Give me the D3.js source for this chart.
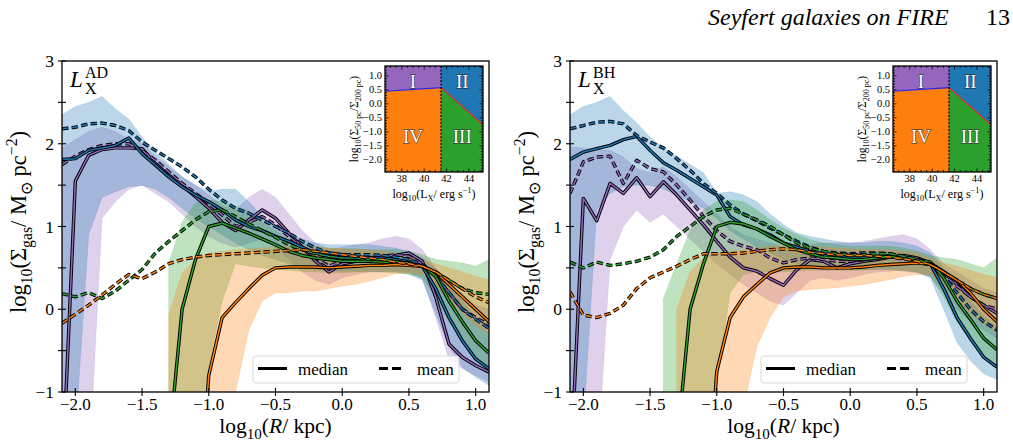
<!DOCTYPE html>
<html>
<head>
<meta charset="utf-8">
<script src="https://cdn.jsdelivr.net/npm/d3@7"></script>
<style>
  body { margin: 0; background: #fff; }
</style>
</head>
<body>
<div id="graph"></div>
<script>
// radial bins, log10(R/kpc)
const logR = [-2.1, -2.0, -1.9, -1.8, -1.7, -1.6, -1.5, -1.4, -1.3, -1.2, -1.1, -1.0, -0.9, -0.8, -0.7, -0.6, -0.5,
              -0.4, -0.3, -0.2, -0.1, 0.0, 0.1, 0.2, 0.3, 0.4, 0.5, 0.6, 0.7, 0.8, 0.9, 1.0, 1.1];
const _ = null;

// ---- L_X^AD panel ----
const adMedianI  = [-2.1, 1.55, 1.86, 1.93, 1.95, 1.95, 1.94, 1.76, 1.62, 1.50, 1.36, 1.22, 1.05, 0.95, 1.08, 1.20, 1.10, 0.92, 0.75, 0.58, 0.45, 0.55, 0.58, 0.60, 0.62, 0.65, 0.68, 0.58, 0.15, -0.42, -0.58, -0.68, -0.76];
const adMeanI    = [1.75, 1.85, 1.93, 1.98, 2.0, 2.0, 1.92, 1.8, 1.66, 1.52, 1.4, 1.28, 1.14, 1.0, 1.05, 1.12, 1.02, 0.88, 0.75, 0.62, 0.52, 0.58, 0.6, 0.62, 0.64, 0.66, 0.64, 0.55, 0.4, 0.2, 0.0, -0.1, -0.19];
const adLoI      = [-3, -3, -2, 1.1, 1.3, 1.45, 1.5, 1.4, 1.3, 1.15, 1.0, 0.88, 0.8, 0.75, 0.8, 0.85, 0.75, 0.6, 0.45, 0.35, 0.3, 0.38, 0.42, 0.45, 0.46, 0.46, 0.45, 0.38, -0.1, -0.6, -0.72, -0.8, -0.88];
const adHiI      = [1.95, 2.05, 2.15, 2.2, 2.15, 2.05, 2.0, 1.85, 1.72, 1.6, 1.5, 1.38, 1.25, 1.2, 1.35, 1.45, 1.35, 1.15, 0.95, 0.8, 0.72, 0.75, 0.78, 0.8, 0.85, 0.88, 0.85, 0.72, 0.5, 0.3, 0.15, 0.05, 0.0];

const adMedianII = [1.81, 1.82, 1.92, 1.95, 1.98, 2.07, 1.88, 1.74, 1.6, 1.48, 1.38, 1.3, 1.2, 1.08, 1.0, 0.95, 0.88, 0.82, 0.75, 0.68, 0.64, 0.62, 0.62, 0.62, 0.62, 0.6, 0.58, 0.52, 0.25, -0.1, -0.38, -0.6, -0.72];
const adMeanII   = [2.18, 2.2, 2.24, 2.25, 2.22, 2.16, 2.02, 1.92, 1.82, 1.72, 1.6, 1.45, 1.32, 1.22, 1.16, 1.08, 1.0, 0.92, 0.82, 0.74, 0.68, 0.66, 0.66, 0.66, 0.65, 0.63, 0.6, 0.54, 0.4, 0.2, 0.0, -0.12, -0.23];
const adLoII     = [-2.5, -1.5, 0.9, 1.35, 1.42, 1.48, 1.5, 1.45, 1.35, 1.22, 1.1, 1.0, 0.9, 0.8, 0.72, 0.65, 0.6, 0.55, 0.5, 0.48, 0.46, 0.46, 0.46, 0.46, 0.45, 0.45, 0.43, 0.35, -0.05, -0.45, -0.7, -0.82, -0.92];
const adHiII     = [2.35, 2.45, 2.5, 2.57, 2.42, 2.3, 2.08, 1.9, 1.75, 1.6, 1.5, 1.42, 1.45, 1.45, 1.3, 1.12, 1.0, 0.9, 0.85, 0.8, 0.78, 0.78, 0.78, 0.78, 0.76, 0.74, 0.7, 0.62, 0.5, 0.3, 0.1, -0.1, -0.3];

const adMedianIII = [_, _, _, _, _, _, _, _, -1.67, 0.0, 0.6, 1.0, 1.04, 0.98, 0.92, 0.85, 0.78, 0.70, 0.65, 0.62, 0.60, 0.58, 0.58, 0.58, 0.57, 0.56, 0.55, 0.52, 0.4, 0.1, -0.15, -0.38, -0.53];
const adMeanIII   = [0.19, 0.15, 0.2, 0.13, 0.22, 0.35, 0.48, 0.68, 0.82, 0.95, 1.08, 1.18, 1.2, 1.12, 1.03, 0.95, 0.87, 0.78, 0.72, 0.67, 0.64, 0.62, 0.62, 0.6, 0.6, 0.58, 0.56, 0.52, 0.45, 0.35, 0.25, 0.2, 0.18];
const adLoIII     = [_, _, _, _, _, _, _, _, -3, -3, -3, -0.7, 0.1, 0.55, 0.52, 0.5, 0.48, 0.47, 0.46, 0.45, 0.44, 0.44, 0.45, 0.45, 0.45, 0.44, 0.42, 0.38, 0.15, -0.15, -0.4, -0.6, -0.7];
const adHiIII     = [_, _, _, _, _, _, _, _, 0.56, 1.05, 1.28, 1.32, 1.3, 1.25, 1.18, 1.05, 0.95, 0.85, 0.8, 0.76, 0.74, 0.73, 0.73, 0.72, 0.72, 0.72, 0.7, 0.66, 0.6, 0.58, 0.56, 0.52, 0.6];

const adMedianIV = [_, _, _, _, _, _, _, _, _, _, -3.0, -0.8, -0.1, 0.08, 0.25, 0.41, 0.5, 0.51, 0.51, 0.51, 0.5, 0.51, 0.52, 0.53, 0.53, 0.54, 0.53, 0.52, 0.45, 0.3, 0.15, 0.0, -0.15];
const adMeanIV   = [-0.17, -0.06, 0.05, 0.17, 0.3, 0.42, 0.37, 0.45, 0.55, 0.6, 0.63, 0.65, 0.66, 0.67, 0.68, 0.69, 0.70, 0.71, 0.72, 0.7, 0.68, 0.66, 0.64, 0.62, 0.6, 0.57, 0.55, 0.52, 0.45, 0.35, 0.25, 0.15, 0.08];
const adLoIV     = [_, _, _, _, _, _, _, _, -3, -3, -3, -3, -2.0, -1.0, -0.25, 0.1, 0.2, 0.2, 0.22, 0.22, 0.25, 0.28, 0.3, 0.34, 0.38, 0.43, 0.44, 0.42, 0.3, 0.1, -0.05, -0.2, -0.3];
const adHiIV     = [_, _, _, _, _, _, _, _, -0.07, 0.44, 0.6, 0.68, 0.7, 0.72, 0.73, 0.74, 0.75, 0.76, 0.76, 0.75, 0.74, 0.73, 0.72, 0.72, 0.7, 0.68, 0.65, 0.6, 0.55, 0.5, 0.45, 0.4, 0.35];

// ---- L_X^BH panel ----
const bhMedianI  = [-2.1, 1.34, 1.07, 1.52, 1.4, 1.59, 1.36, 1.54, 1.38, 1.2, 1.02, 0.82, 0.63, 0.5, 0.46, 0.37, 0.29, 0.48, 0.6, 0.58, 0.5, 0.55, 0.58, 0.6, 0.63, 0.65, 0.62, 0.56, 0.45, 0.3, 0.15, 0.05, -0.05];
const bhMeanI    = [1.4, 1.78, 1.84, 1.85, 1.52, 1.8, 1.7, 1.66, 1.5, 1.32, 1.12, 0.95, 0.82, 0.76, 0.72, 0.62, 0.56, 0.6, 0.62, 0.6, 0.58, 0.58, 0.6, 0.62, 0.63, 0.62, 0.6, 0.55, 0.42, 0.28, 0.15, 0.05, 0.0];
const bhLoI      = [-3, -3, -2, 0.6, 1.0, 1.2, 1.05, 1.15, 1.0, 0.85, 0.7, 0.55, 0.42, 0.3, 0.2, 0.1, 0.05, 0.2, 0.35, 0.38, 0.35, 0.38, 0.42, 0.45, 0.46, 0.47, 0.45, 0.4, 0.2, 0.0, -0.15, -0.25, -0.35];
const bhHiI      = [1.96, 1.95, 1.93, 1.92, 1.84, 1.7, 1.65, 1.72, 1.6, 1.45, 1.3, 1.15, 1.0, 0.9, 0.85, 0.8, 0.75, 0.75, 0.78, 0.8, 0.8, 0.8, 0.82, 0.85, 0.88, 0.9, 0.85, 0.72, 0.55, 0.45, 0.35, 0.25, 0.2];

const bhMedianII = [1.81, 1.9, 1.94, 1.98, 2.05, 2.09, 1.92, 1.77, 1.68, 1.58, 1.48, 1.38, 1.12, 1.02, 0.97, 0.9, 0.8, 0.75, 0.7, 0.65, 0.64, 0.62, 0.62, 0.63, 0.65, 0.62, 0.58, 0.55, 0.25, -0.1, -0.35, -0.58, -0.7];
const bhMeanII   = [2.18, 2.22, 2.26, 2.27, 2.24, 2.1, 2.02, 1.95, 1.82, 1.68, 1.52, 1.4, 1.26, 1.15, 1.07, 0.98, 0.9, 0.82, 0.75, 0.7, 0.68, 0.67, 0.68, 0.68, 0.67, 0.64, 0.6, 0.55, 0.4, 0.2, 0.0, -0.15, -0.25];
const bhLoII     = [-2.5, -1.4, 1.2, 1.4, 1.48, 1.5, 1.5, 1.45, 1.38, 1.3, 1.22, 1.1, 0.95, 0.85, 0.75, 0.68, 0.6, 0.55, 0.52, 0.5, 0.48, 0.48, 0.48, 0.48, 0.48, 0.46, 0.44, 0.38, 0.0, -0.4, -0.62, -0.78, -0.85];
const bhHiII     = [2.35, 2.45, 2.5, 2.57, 2.4, 2.25, 2.08, 1.95, 1.85, 1.75, 1.65, 1.4, 1.42, 1.38, 1.3, 1.15, 1.02, 0.92, 0.88, 0.85, 0.82, 0.8, 0.8, 0.82, 0.82, 0.8, 0.76, 0.68, 0.5, 0.3, 0.1, -0.08, -0.22];

const bhMedianIII = [_, _, _, _, _, _, _, _, -1.67, 0.0, 0.55, 1.0, 1.05, 1.03, 0.97, 0.88, 0.8, 0.72, 0.67, 0.63, 0.62, 0.6, 0.6, 0.62, 0.64, 0.62, 0.6, 0.57, 0.38, 0.1, -0.12, -0.35, -0.49];
const bhMeanIII   = [0.57, 0.5, 0.57, 0.53, 0.55, 0.58, 0.63, 0.72, 0.88, 1.0, 1.12, 1.2, 1.22, 1.15, 1.08, 1.0, 0.9, 0.8, 0.74, 0.7, 0.67, 0.66, 0.66, 0.67, 0.67, 0.64, 0.6, 0.55, 0.45, 0.35, 0.25, 0.18, 0.13];
const bhLoIII     = [_, _, _, _, _, _, _, -3, -3, -3, -3, -0.9, 0.2, 0.42, 0.45, 0.45, 0.45, 0.46, 0.47, 0.47, 0.47, 0.47, 0.47, 0.48, 0.48, 0.47, 0.45, 0.4, 0.15, -0.15, -0.38, -0.58, -0.68];
const bhHiIII     = [_, _, _, _, _, _, _, 0.13, 0.55, 0.95, 1.2, 1.3, 1.32, 1.3, 1.2, 1.08, 0.98, 0.9, 0.84, 0.8, 0.78, 0.76, 0.76, 0.76, 0.76, 0.74, 0.7, 0.65, 0.62, 0.6, 0.55, 0.5, 0.62];

const bhMedianIV = [_, _, _, _, _, _, _, _, _, _, -3.0, -0.75, -0.1, 0.15, 0.3, 0.44, 0.5, 0.51, 0.51, 0.5, 0.5, 0.5, 0.51, 0.53, 0.54, 0.55, 0.56, 0.54, 0.45, 0.35, 0.2, 0.0, -0.15];
const bhMeanIV   = [0.21, -0.07, -0.1, -0.05, 0.05, 0.25, 0.38, 0.45, 0.52, 0.6, 0.67, 0.67, 0.67, 0.68, 0.7, 0.72, 0.73, 0.72, 0.69, 0.67, 0.66, 0.65, 0.65, 0.64, 0.63, 0.61, 0.58, 0.54, 0.45, 0.35, 0.25, 0.18, 0.13];
const bhLoIV     = [_, _, _, _, _, _, _, _, -3, -3, -3, -3, -2.2, -1.2, -0.45, -0.1, 0.15, 0.22, 0.24, 0.25, 0.26, 0.28, 0.3, 0.33, 0.36, 0.4, 0.42, 0.42, 0.3, 0.1, -0.05, -0.18, -0.28];
const bhHiIV     = [_, _, _, _, _, _, _, _, 0.0, 0.45, 0.62, 0.68, 0.7, 0.72, 0.74, 0.76, 0.77, 0.77, 0.76, 0.75, 0.74, 0.73, 0.72, 0.72, 0.72, 0.7, 0.68, 0.62, 0.56, 0.52, 0.47, 0.42, 0.38];

// axis ticks
const xTicks = [-2.0, -1.5, -1.0, -0.5, 0.0, 0.5, 1.0];
const yTicks = [-1, -0.5, 0, 0.5, 1, 1.5, 2, 2.5, 3];
const yTickLabels = [-1, 0, 1, 2, 3];

// inset: classification in the (L_X, Sigma_50pc/Sigma_200pc) plane
const insetLxRange = [36.5, 45.25];
const insetRatioRange = [-2.43, 1.35];
const lxCut = 41.5;
const faintBoundary = [[36.5, 0.45], [41.5, 0.58]];
const brightBoundary = [[41.5, 0.58], [45.25, -0.75]];
const insetXTicks = [38, 40, 42, 44];
const insetYTicks = [-2.0, -1.5, -1.0, -0.5, 0.0, 0.5, 1.0];
const classLabels = ["I", "II", "III", "IV"];
const classLabelPos = [[39.0, 0.81], [43.4, 0.81], [43.4, -1.18], [39.0, -1.18]];

const colors = { I: "#9467bd", II: "#1f77b4", III: "#2ca02c", IV: "#ff7f0e" };

const panels = [
  { tag: "AD", left: 62,
    median: { I: adMedianI, II: adMedianII, III: adMedianIII, IV: adMedianIV },
    mean:   { I: adMeanI,   II: adMeanII,   III: adMeanIII,   IV: adMeanIV },
    lo:     { I: adLoI,     II: adLoII,     III: adLoIII,     IV: adLoIV },
    hi:     { I: adHiI,     II: adHiII,     III: adHiIII,     IV: adHiIV } },
  { tag: "BH", left: 570,
    median: { I: bhMedianI, II: bhMedianII, III: bhMedianIII, IV: bhMedianIV },
    mean:   { I: bhMeanI,   II: bhMeanII,   III: bhMeanIII,   IV: bhMeanIV },
    lo:     { I: bhLoI,     II: bhLoII,     III: bhLoIII,     IV: bhLoIV },
    hi:     { I: bhHiI,     II: bhHiII,     III: bhHiIII,     IV: bhHiIV } }
];

const width = 1013, height = 444;
const plotW = 427, plotTop = 61, plotBottom = 392;

const svg = d3.select("#graph").append("svg")
  .attr("width", width).attr("height", height)
  .attr("viewBox", `0 0 ${width} ${height}`)
  .attr("font-family", "'Liberation Serif', serif");

// text with sub/superscripts
function rich(sel, parts, size) {
  sel.attr("font-size", size);
  let shift = 0;
  parts.forEach(([t, m]) => {
    const sp = sel.append("tspan").text(t);
    const target = m === "sub" ? size * 0.28 : m === "sup" ? -size * 0.42 : 0;
    sp.attr("dy", target - shift);
    shift = target;
    if (m === "sub" || m === "sup") sp.attr("font-size", size * 0.7);
    if (m === "it") sp.attr("font-style", "italic");
  });
}

const fmt = v => (v < 0 ? "\u2212" : "") + Math.abs(v).toFixed(1);
const fmtInt = v => (v < 0 ? "\u2212" : "") + Math.abs(v);

// header
svg.append("text").attr("x", 708).attr("y", 25).attr("font-size", 24)
  .attr("font-style", "italic").text("Seyfert galaxies on FIRE");
svg.append("text").attr("x", 1010).attr("y", 25).attr("font-size", 24)
  .attr("text-anchor", "end").text("13");

panels.forEach((p, pi) => {
  const x = d3.scaleLinear().domain([-2.1, 1.1]).range([p.left, p.left + plotW]);
  const y = d3.scaleLinear().domain([-1, 3]).range([plotBottom, plotTop]);
  const g = svg.append("g");

  const clipId = `clip${pi}`;
  svg.append("clipPath").attr("id", clipId).append("rect")
    .attr("x", p.left).attr("y", plotTop).attr("width", plotW).attr("height", plotBottom - plotTop);

  const plot = g.append("g").attr("clip-path", `url(#${clipId})`);

  // shaded percentile bands
  classLabels.forEach(k => {
    const lo = p.lo[k], hi = p.hi[k];
    const area = d3.area()
      .defined(i => lo[i] != null && hi[i] != null)
      .x(i => x(logR[i])).y0(i => y(lo[i])).y1(i => y(hi[i]));
    plot.append("path").attr("d", area(d3.range(logR.length)))
      .attr("fill", colors[k]).attr("fill-opacity", 0.3)
      .attr("stroke", colors[k]).attr("stroke-opacity", 0.25).attr("stroke-width", 0.6);
  });

  // median (solid) and mean (dashed), outlined in black
  classLabels.forEach(k => {
    [["median", null], ["mean", "6.5,3.2"]].forEach(([stat, dash]) => {
      const vals = p[stat][k];
      const line = d3.line().defined(i => vals[i] != null)
        .x(i => x(logR[i])).y(i => y(vals[i]));
      const d = line(d3.range(logR.length));
      plot.append("path").attr("d", d).attr("fill", "none")
        .attr("stroke", "#000").attr("stroke-width", 3.4)
        .attr("stroke-linejoin", "round").attr("stroke-dasharray", dash);
      plot.append("path").attr("d", d).attr("fill", "none")
        .attr("stroke", colors[k]).attr("stroke-width", 1.5)
        .attr("stroke-linejoin", "round").attr("stroke-dasharray", dash);
    });
  });

  // frame
  g.append("rect").attr("x", p.left).attr("y", plotTop).attr("width", plotW).attr("height", plotBottom - plotTop)
    .attr("fill", "none").attr("stroke", "#000").attr("stroke-width", 1.3);

  // ticks
  xTicks.forEach(t => {
    g.append("line").attr("x1", x(t)).attr("x2", x(t)).attr("y1", plotBottom - 4).attr("y2", plotBottom + 4)
      .attr("stroke", "#000").attr("stroke-width", 1.1);
    g.append("text").attr("x", x(t)).attr("y", plotBottom + 18).attr("text-anchor", "middle")
      .attr("font-size", 17).text(fmt(t));
  });
  yTicks.forEach(t => {
    g.append("line").attr("x1", p.left - 4).attr("x2", p.left + 4).attr("y1", y(t)).attr("y2", y(t))
      .attr("stroke", "#000").attr("stroke-width", 1.1);
  });
  yTickLabels.forEach(t => {
    g.append("text").attr("x", p.left - 8).attr("y", y(t) + 6).attr("text-anchor", "end")
      .attr("font-size", 17.5).text(fmtInt(t));
  });

  // axis labels
  rich(g.append("text").attr("x", p.left + plotW / 2).attr("y", 433).attr("text-anchor", "middle"),
    [["log", ""], ["10", "sub"], ["(", ""], ["R", "it"], ["/ kpc)", ""]], 21.5);
  rich(g.append("text").attr("transform", `translate(${p.left - 36},222) rotate(-90)`).attr("text-anchor", "middle"),
    [["log", ""], ["10", "sub"], ["(\u03A3", ""], ["gas", "sub"], ["/ M", ""], ["\u2299", "sub"], [" pc", ""], ["\u22122", "sup"], [")", ""]], 22.5);

  // panel tag L_X^AD / L_X^BH
  g.append("text").attr("x", p.left + 8).attr("y", 87).attr("font-size", 23)
    .attr("font-style", "italic").text("L");
  g.append("text").attr("x", p.left + 23).attr("y", 78).attr("font-size", 16).text(p.tag);
  g.append("text").attr("x", p.left + 23).attr("y", 94).attr("font-size", 16).text("X");

  // legend
  const lg = g.append("g");
  lg.append("rect").attr("x", p.left + 191).attr("y", 356).attr("width", 206).attr("height", 27)
    .attr("rx", 3).attr("fill", "#fff").attr("fill-opacity", 0.8)
    .attr("stroke", "#d6d6d6").attr("stroke-width", 1);
  lg.append("line").attr("x1", p.left + 196).attr("x2", p.left + 225).attr("y1", 368.5).attr("y2", 368.5)
    .attr("stroke", "#000").attr("stroke-width", 3);
  lg.append("text").attr("x", p.left + 236).attr("y", 374.5).attr("font-size", 17).text("median");
  lg.append("line").attr("x1", p.left + 317).attr("x2", p.left + 343).attr("y1", 368.5).attr("y2", 368.5)
    .attr("stroke", "#000").attr("stroke-width", 3).attr("stroke-dasharray", "9,4");
  lg.append("text").attr("x", p.left + 355).attr("y", 374.5).attr("font-size", 17).text("mean");

  // inset
  const i0 = p.left + 323, iW = 98, iTop = 66, iBot = 172;
  const ix = d3.scaleLinear().domain(insetLxRange).range([i0, i0 + iW]);
  const iy = d3.scaleLinear().domain(insetRatioRange).range([iBot, iTop]);
  const [xl, xr] = insetLxRange, [yb, yt] = insetRatioRange;
  const polys = {
    I:   [[xl, yt], [lxCut, yt], faintBoundary[1], faintBoundary[0]],
    IV:  [faintBoundary[0], faintBoundary[1], [lxCut, yb], [xl, yb]],
    II:  [[lxCut, yt], [xr, yt], brightBoundary[1], brightBoundary[0]],
    III: [brightBoundary[0], brightBoundary[1], [xr, yb], [lxCut, yb]]
  };
  const ig = g.append("g");
  Object.entries(polys).forEach(([k, pts]) => {
    ig.append("path").attr("d", d3.line()(pts.map(q => [ix(q[0]), iy(q[1])])) + "Z")
      .attr("fill", colors[k]);
  });
  ig.append("path").attr("d", d3.line()(faintBoundary.map(q => [ix(q[0]), iy(q[1])])))
    .attr("stroke", "#1f1fff").attr("stroke-width", 1.2).attr("fill", "none");
  ig.append("path").attr("d", d3.line()(brightBoundary.map(q => [ix(q[0]), iy(q[1])])))
    .attr("stroke", "#ff1a1a").attr("stroke-width", 1.2).attr("fill", "none");
  ig.append("line").attr("x1", ix(lxCut)).attr("x2", ix(lxCut)).attr("y1", iTop).attr("y2", iBot)
    .attr("stroke", "#000").attr("stroke-width", 1.2).attr("stroke-dasharray", "2,1.5");
  classLabels.forEach((k, j) => {
    ig.append("text").attr("x", ix(classLabelPos[j][0])).attr("y", iy(classLabelPos[j][1]) + 6.5)
      .attr("text-anchor", "middle").attr("font-size", 19)
      .attr("fill", "#fff").attr("stroke", "#222").attr("stroke-width", 0.9)
      .attr("paint-order", "stroke").text(k);
  });
  ig.append("rect").attr("x", i0).attr("y", iTop).attr("width", iW).attr("height", iBot - iTop)
    .attr("fill", "none").attr("stroke", "#000").attr("stroke-width", 1.3);
  // inset ticks, inward on all sides
  d3.range(37, 45.01, 0.5).forEach(t => {
    const major = insetXTicks.includes(t);
    const L = major ? 3.5 : 2;
    ig.append("line").attr("x1", ix(t)).attr("x2", ix(t)).attr("y1", iBot).attr("y2", iBot - L).attr("stroke", "#000").attr("stroke-width", 0.8);
    ig.append("line").attr("x1", ix(t)).attr("x2", ix(t)).attr("y1", iTop).attr("y2", iTop + L).attr("stroke", "#000").attr("stroke-width", 0.8);
  });
  d3.range(-2.4, 1.31, 0.1).forEach(t => {
    const major = insetYTicks.some(v => Math.abs(v - t) < 1e-6);
    const L = major ? 3.5 : 2;
    ig.append("line").attr("x1", i0).attr("x2", i0 + L).attr("y1", iy(t)).attr("y2", iy(t)).attr("stroke", "#000").attr("stroke-width", 0.8);
    ig.append("line").attr("x1", i0 + iW).attr("x2", i0 + iW - L).attr("y1", iy(t)).attr("y2", iy(t)).attr("stroke", "#000").attr("stroke-width", 0.8);
  });
  insetXTicks.forEach(t => {
    ig.append("text").attr("x", ix(t)).attr("y", iBot + 10).attr("text-anchor", "middle")
      .attr("font-size", 10.5).text(t);
  });
  insetYTicks.forEach(t => {
    ig.append("text").attr("x", i0 - 3).attr("y", iy(t) + 3.5).attr("text-anchor", "end")
      .attr("font-size", 10.5).text(fmt(t));
  });
  rich(ig.append("text").attr("x", i0 + iW / 2).attr("y", 198).attr("text-anchor", "middle"),
    [["log", ""], ["10", "sub"], ["(L", ""], ["X", "sub"], ["/ erg s", ""], ["\u22121", "sup"], [")", ""]], 12);
  rich(ig.append("text").attr("transform", `translate(${i0 - 27},119) rotate(-90)`).attr("text-anchor", "middle"),
    [["log", ""], ["10", "sub"], ["(\u03A3", ""], ["50 pc", "sub"], ["/\u03A3", ""], ["200 pc", "sub"], [")", ""]], 11.5);
});
</script>
</body>
</html>
